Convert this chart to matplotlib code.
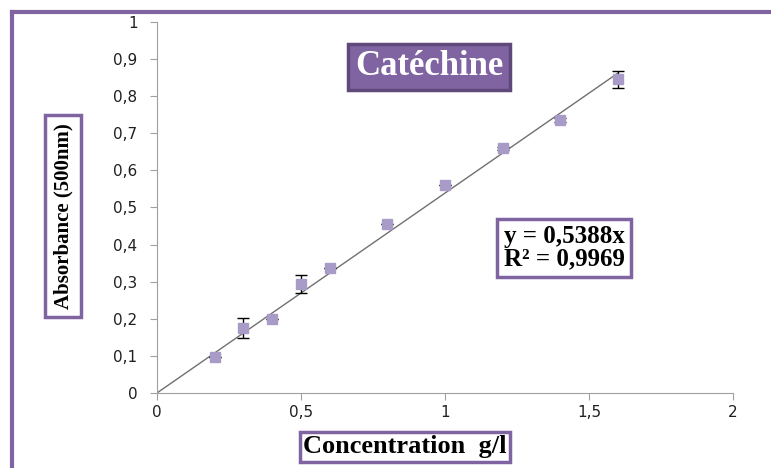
import matplotlib
matplotlib.use("Agg")
import matplotlib.pyplot as plt
from matplotlib.lines import Line2D
from matplotlib.ticker import FuncFormatter

# concentration (g/l) and absorbance at 500 nm
conc = [0.2, 0.3, 0.4, 0.5, 0.6, 0.8, 1.0, 1.2, 1.4, 1.6]
absorb = [0.097, 0.175, 0.200, 0.294, 0.337, 0.455, 0.560, 0.660, 0.736, 0.845]
err = [0.0, 0.028, 0.0, 0.024, 0.0, 0.0, 0.0, 0.004, 0.006, 0.023]

slope = 0.5388
r2 = 0.9969
fit_x = [0, 1.6]

purple = "#8064A2"
marker_col = "#A99BC7"

fig = plt.figure(figsize=(7.71, 4.68), dpi=100)
ax = fig.add_axes([0.2036, 0.1603, 0.7471, 0.7927])

ax.plot(fit_x, [slope * x for x in fit_x], color="#707070", lw=1, zorder=2)
ax.errorbar(conc, absorb, yerr=err, fmt="none", ecolor="black", elinewidth=1,
            capsize=4, capthick=1, zorder=3)
ax.plot(conc, absorb, ls="none", marker="s", ms=7, mfc=marker_col,
        mec=marker_col, zorder=4)

ax.set_xlim(0, 2)
ax.set_ylim(0, 1)
ax.set_xticks([0, 0.5, 1, 1.5, 2])
ax.set_yticks([i / 10 for i in range(11)])
fmt = FuncFormatter(lambda v, p: ("%g" % round(v, 2)).replace(".", ","))
ax.xaxis.set_major_formatter(fmt)
ax.yaxis.set_major_formatter(fmt)
for s in ["top", "right"]:
    ax.spines[s].set_visible(False)
for s in ["left", "bottom"]:
    ax.spines[s].set_color("#A0A0A0")
ax.tick_params(colors="#A0A0A0", labelcolor="#202020", labelsize=11,
               length=5, direction="out")
ax.tick_params(axis="y", pad=9)
ax.tick_params(axis="x", pad=4)

# outer frame
fig.add_artist(Line2D([12 / 771, 1], [1 - 12 / 468, 1 - 12 / 468], color=purple,
                      lw=3, transform=fig.transFigure))
fig.add_artist(Line2D([12 / 771, 12 / 771], [0, 1 - 12 / 468], color=purple,
                      lw=3, transform=fig.transFigure))

serif = "Liberation Serif"
fig.text(429 / 771, 1 - 67 / 468, "Catéchine", ha="center", va="center",
         fontsize=25, fontweight="bold", family=serif, color="white",
         bbox=dict(boxstyle="square,pad=0.2", fc=purple, ec="#5F497A", lw=2.5))

fig.text(564 / 771, 1 - 248 / 468, "y = 0,5388x\nR² = %s" % str(r2).replace(".", ","),
         ha="center", va="center", fontsize=18, fontweight="bold", family=serif,
         linespacing=0.95,
         bbox=dict(boxstyle="square,pad=0.25", fc="white", ec=purple, lw=2.5))

fig.text(63 / 771, 1 - 216 / 468, "Absorbance (500nm)", ha="center", va="center",
         rotation=90, fontsize=15, fontweight="bold", family=serif,
         bbox=dict(boxstyle="square,pad=0.4", fc="white", ec=purple, lw=2.5))

fig.text(405 / 771, 1 - 447 / 468, "Concentration  g/l", ha="center", va="center",
         fontsize=19, fontweight="bold", family=serif,
         bbox=dict(boxstyle="square,pad=0.12", fc="white", ec=purple, lw=2.5))

fig.savefig("out.png", dpi=100)
